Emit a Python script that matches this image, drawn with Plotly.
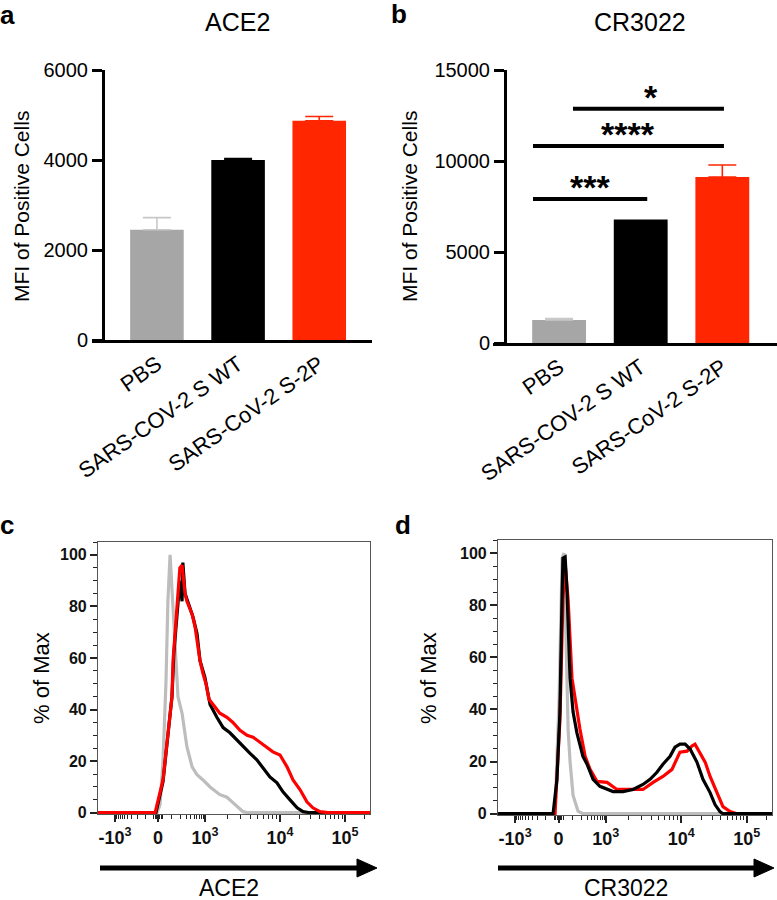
import numpy as np
import plotly.graph_objects as go

W, H = 777, 900

# ---- bar panels (a, b) ----
groups = ["PBS", "SARS-COV-2 S WT", "SARS-CoV-2 S-2P"]
ace2_mfi = [2450, 4000, 4870]
ace2_err = [270, 30, 95]
cr3022_mfi = [1260, 6780, 9120]
cr3022_err = [90, 0, 660]
bar_colors = ["#a6a6a6", "#000000", "#ff2600"]
err_colors = ["#c8c8c8", "#000000", "#ff2600"]

# significance brackets for b
sig_x0 = [0.17, -0.32, -0.32]
sig_x1 = [2.02, 2.02, 1.08]
sig_y = [12870, 10820, 7910]
sig_labels = ["*", "****", "***"]
sig_label_x = [1.12, 0.85, 0.38]

# ---- histogram panels (c, d); x in display units of the biexponential axis (0-100) ----
tick_labels = ["-10<sup>3</sup>", "0", "10<sup>3</sup>", "10<sup>4</sup>", "10<sup>5</sup>"]
tick_pos = [6.25, 22.1, 39.3, 66.9, 90.8]

c_gray_x = [0, 21.7, 22.8, 23.9, 25.0, 25.7, 26.5, 27.2, 28.3, 29.4, 30.9, 32.7, 34.6, 36.4,
            38.6, 41.2, 44.8, 47.4, 49.6, 53.3, 55.1, 100]
c_gray_y = [0, 0, 3, 20, 51, 82, 100, 86, 63, 45, 38.6, 25.5, 17.8, 14.7,
            12.7, 10, 7, 6, 3.9, 0.4, 0, 0]
c_black_x = [0, 21.3, 23.9, 25.7, 27.2, 27.9, 29.0, 30.1, 30.9, 31.2, 32.0, 33.5, 34.9, 36.4,
             37.5, 39.3, 40.1, 41.2, 43.7, 46.0, 48.5, 51.1, 53.3, 55.9, 58.4, 60.7, 63.2,
             65.8, 68.0, 70.6, 73.2, 75.4, 77.9, 100]
c_black_y = [0, 0, 12, 31, 45, 62, 76, 90, 82, 97, 85, 80, 76, 69.5,
             59, 52.5, 48.6, 42, 37, 33, 31, 28.2, 25.5, 23, 20.5, 17.4, 13.9,
             11.6, 8.1, 5, 1.9, 0.4, 0, 0]
c_red_x = [0, 21.0, 23.9, 25.7, 27.2, 27.6, 29.0, 30.1, 30.9, 32.0, 32.7, 34.6, 35.7, 37.5,
           38.6, 39.7, 40.8, 42.3, 44.8, 47.4, 49.6, 52.2, 54.8, 57.0, 59.6, 62.1, 64.3,
           66.9, 69.5, 71.7, 74.3, 76.8, 79.0, 81.6, 84.5, 100]
c_red_y = [0, 0, 12.7, 32, 45, 59, 78, 95, 96, 85, 82, 77, 72, 59,
           54, 50, 44, 42, 38.6, 37, 35, 32, 30, 29.3, 27.4, 25.5, 23.6,
           22.4, 17.8, 12.7, 8.9, 4.2, 1.9, 0.4, 0, 0]

d_gray_x = [0, 20.8, 22.3, 23.4, 24.1, 24.8, 25.6, 26.3, 27.4, 29.2, 31.0, 100]
d_gray_y = [0, 0, 44, 98, 100, 63, 32, 20, 7, 1, 0, 0]
d_black_x = [0, 20.1, 21.5, 22.6, 23.4, 23.7, 24.5, 25.2, 26.3, 27.0, 27.4, 28.8, 29.9, 31.0,
             32.5, 33.6, 34.7, 37.2, 39.8, 42.0, 45.6, 49.3, 52.9, 55.5, 58.0, 60.2, 62.8,
             64.6, 66.4, 68.3, 70.1, 72.6, 74.8, 77.4, 79.2, 81.0, 82.1, 100]
d_black_y = [0, 0, 13, 39, 85, 98, 98.5, 85, 52, 45, 39, 31, 26, 22,
             19, 16, 13.2, 10.5, 9.3, 8.5, 8.5, 9.3, 11.2, 13.2, 15.9, 19, 22,
             25.5, 26.7, 26.7, 24.8, 19.8, 13.2, 8.1, 3.5, 0.8, 0, 0]
d_red_x = [0, 20.8, 22.6, 23.7, 24.5, 25.6, 27.0, 28.8, 29.9, 31.8, 33.6, 36.1, 39.8, 43.4,
           48.2, 52.9, 56.6, 60.2, 63.5, 65.3, 66.4, 69.0, 70.8, 71.9, 73.7, 75.6, 77.4,
           79.9, 82.1, 84.7, 87.2, 100]
d_red_y = [0, 0, 36, 82, 96, 82, 52, 39, 32.5, 22, 17, 12.4, 12, 9.3,
           9.3, 9.3, 12, 14.3, 17, 20.9, 23.6, 24, 26, 26.7, 23.6, 19.8, 14.3,
           8.1, 2.7, 0.8, 0, 0]

FONT = "Arial, Liberation Sans, sans-serif"


def px(x):
    return x / W


def py(y):
    return 1 - y / H


def biex(v):
    # map a fluorescence value to the display units used above
    if v >= 1000:
        return float(np.interp(np.log10(v), [3, 4, 5], [39.3, 66.9, 90.8],
                               right=90.8 + (np.log10(v) - 5) * 23.9))
    if v >= 0:
        return 22.1 + (39.3 - 22.1) * np.arcsinh(v / 100) / np.arcsinh(10)
    return 22.1 - (22.1 - 6.25) * np.arcsinh(-v / 100) / np.arcsinh(10)


minor_vals = [biex(s * k * m) for s in (1, -1) for m in (10, 100) for k in range(1, 10)
              if not (m == 10 and k > 3)]
minor_vals += [biex(k * m) for m in (1000, 10000) for k in range(2, 10)] + [biex(200000)]

fig = go.Figure()

# bars
for panel, vals, errs in [(1, ace2_mfi, ace2_err), (2, cr3022_mfi, cr3022_err)]:
    xa = "x" if panel == 1 else "x2"
    ya = "y" if panel == 1 else "y2"
    for i, g in enumerate(groups):
        fig.add_trace(go.Bar(
            x=[g], y=[vals[i]], width=0.66, marker_color=bar_colors[i],
            marker_line_width=0, xaxis=xa, yaxis=ya, showlegend=False,
            error_y=dict(type="data", symmetric=False, array=[errs[i]], arrayminus=[0],
                         color=err_colors[i], thickness=1.6, width=14,
                         visible=errs[i] > 0),
        ))

# histograms
for xa, ya, curves in [
    ("x3", "y3", [(c_gray_x, c_gray_y, "#bdbdbd"), (c_black_x, c_black_y, "#000000"),
                  (c_red_x, c_red_y, "#ff0000")]),
    ("x4", "y4", [(d_gray_x, d_gray_y, "#bdbdbd"), (d_red_x, d_red_y, "#ff0000"),
                  (d_black_x, d_black_y, "#000000")]),
]:
    for xs, ys, col in curves:
        fig.add_trace(go.Scatter(x=xs, y=ys, mode="lines", line=dict(color=col, width=3.2),
                                 xaxis=xa, yaxis=ya, showlegend=False))

bar_x = dict(type="category", showline=True, linecolor="black", linewidth=3, ticks="",
             tickangle=-35, tickfont=dict(size=22, color="black", family=FONT),
             showgrid=False, zeroline=False, automargin=False)
bar_y = dict(showline=True, linecolor="black", linewidth=3, ticks="outside", ticklen=10,
             tickwidth=3, tickcolor="black", tickfont=dict(size=20, color="black", family=FONT),
             tickformat="d", showgrid=False, zeroline=False, anchor="free", automargin=False)

hist_x = dict(range=[0, 100], showline=True, mirror=True, linecolor="#555555", linewidth=1.2,
              ticks="outside", ticklen=7, tickwidth=1.5, tickcolor="#222222",
              tickmode="array", tickvals=tick_pos,
              ticktext=["<b>%s</b>" % t for t in tick_labels],
              tickfont=dict(size=18, color="#111111", family=FONT),
              minor=dict(tickmode="array", tickvals=minor_vals, ticks="outside", ticklen=4,
                         tickwidth=1.2, tickcolor="#222222"),
              showgrid=False, zeroline=False, automargin=False)
hist_y = dict(range=[-0.5, 105], showline=True, mirror=True, linecolor="#555555", linewidth=1.2,
              ticks="outside", ticklen=7, tickwidth=1.5, tickcolor="#222222",
              tickmode="array", tickvals=[0, 20, 40, 60, 80, 100],
              ticktext=["<b>%d</b>" % v for v in [0, 20, 40, 60, 80, 100]],
              tickfont=dict(size=16, color="#111111", family=FONT),
              minor=dict(dtick=5, ticks="outside", ticklen=4, tickwidth=1.2, tickcolor="#222222"),
              showgrid=False, zeroline=False, automargin=False)

fig.update_layout(
    width=W, height=H, margin=dict(l=0, r=0, t=0, b=0),
    paper_bgcolor="white", plot_bgcolor="white", barmode="overlay",
    font=dict(family=FONT, color="black"),
    xaxis=dict(bar_x, domain=[px(92), px(372)], range=[-0.8, 2.65], anchor="y"),
    yaxis=dict(bar_y, domain=[py(340), py(70)], range=[0, 6000], tickvals=[0, 2000, 4000, 6000],
               position=px(103)),
    xaxis2=dict(bar_x, domain=[px(493), 1.0], range=[-0.81, 2.67], anchor="y2"),
    yaxis2=dict(bar_y, domain=[py(343), py(70)], range=[0, 15000],
                tickvals=[0, 5000, 10000, 15000], position=px(505)),
    xaxis3=dict(hist_x, domain=[px(98), px(370)], anchor="y3"),
    yaxis3=dict(hist_y, domain=[py(814), py(542)], anchor="x3"),
    xaxis4=dict(hist_x, domain=[px(498), px(772)], anchor="y4"),
    yaxis4=dict(hist_y, domain=[py(815), py(540)], anchor="x4"),
)

# significance brackets
for x0, x1, y, lab, lx in zip(sig_x0, sig_x1, sig_y, sig_labels, sig_label_x):
    fig.add_shape(type="line", xref="x2", yref="y2", x0=x0, x1=x1, y0=y, y1=y,
                  line=dict(color="black", width=4))
    fig.add_annotation(xref="x2", yref="y2", x=lx, y=y, text="<b>%s</b>" % lab, showarrow=False,
                       yanchor="bottom", yshift=-9, font=dict(size=34, color="black", family=FONT))

# axis arrows under c and d
for x0, x1, y in [(100, 377, 868), (498, 774, 868)]:
    fig.add_shape(type="line", xref="paper", yref="paper", x0=px(x0), x1=px(x1 - 18),
                  y0=py(y), y1=py(y), line=dict(color="black", width=5))
    fig.add_shape(type="path", xref="paper", yref="paper",
                  path="M %f %f L %f %f L %f %f Z" % (px(x1 - 20), py(y - 9), px(x1), py(y),
                                                     px(x1 - 20), py(y + 9)),
                  fillcolor="black", line=dict(color="black", width=1))

texts = [
    ("a", 7, 15, 26, True, 0), ("b", 399, 14, 26, True, 0), ("c", 7, 525, 26, True, 0),
    ("d", 403, 525, 26, True, 0),
    ("ACE2", 237, 22, 25, False, 0), ("CR3022", 640, 22, 25, False, 0),
    ("ACE2", 229, 888, 23, False, 0), ("CR3022", 626, 888, 23, False, 0),
    ("MFI of Positive Cells", 22, 207, 21, False, -90),
    ("MFI of Positive Cells", 410, 207, 21, False, -90),
    ("% of Max", 41, 678, 22, False, -90), ("% of Max", 428, 678, 22, False, -90),
]
for t, x, y, s, b, ang in texts:
    fig.add_annotation(xref="paper", yref="paper", x=px(x), y=py(y),
                       text="<b>%s</b>" % t if b else t, showarrow=False, textangle=ang,
                       xanchor="center", yanchor="middle",
                       font=dict(size=s, color="black", family=FONT))

# drop the default page margin so the figure fills the window exactly
fig.write_html("out.html", config={"displayModeBar": False},
               post_script="document.body.style.margin = '0px';")
